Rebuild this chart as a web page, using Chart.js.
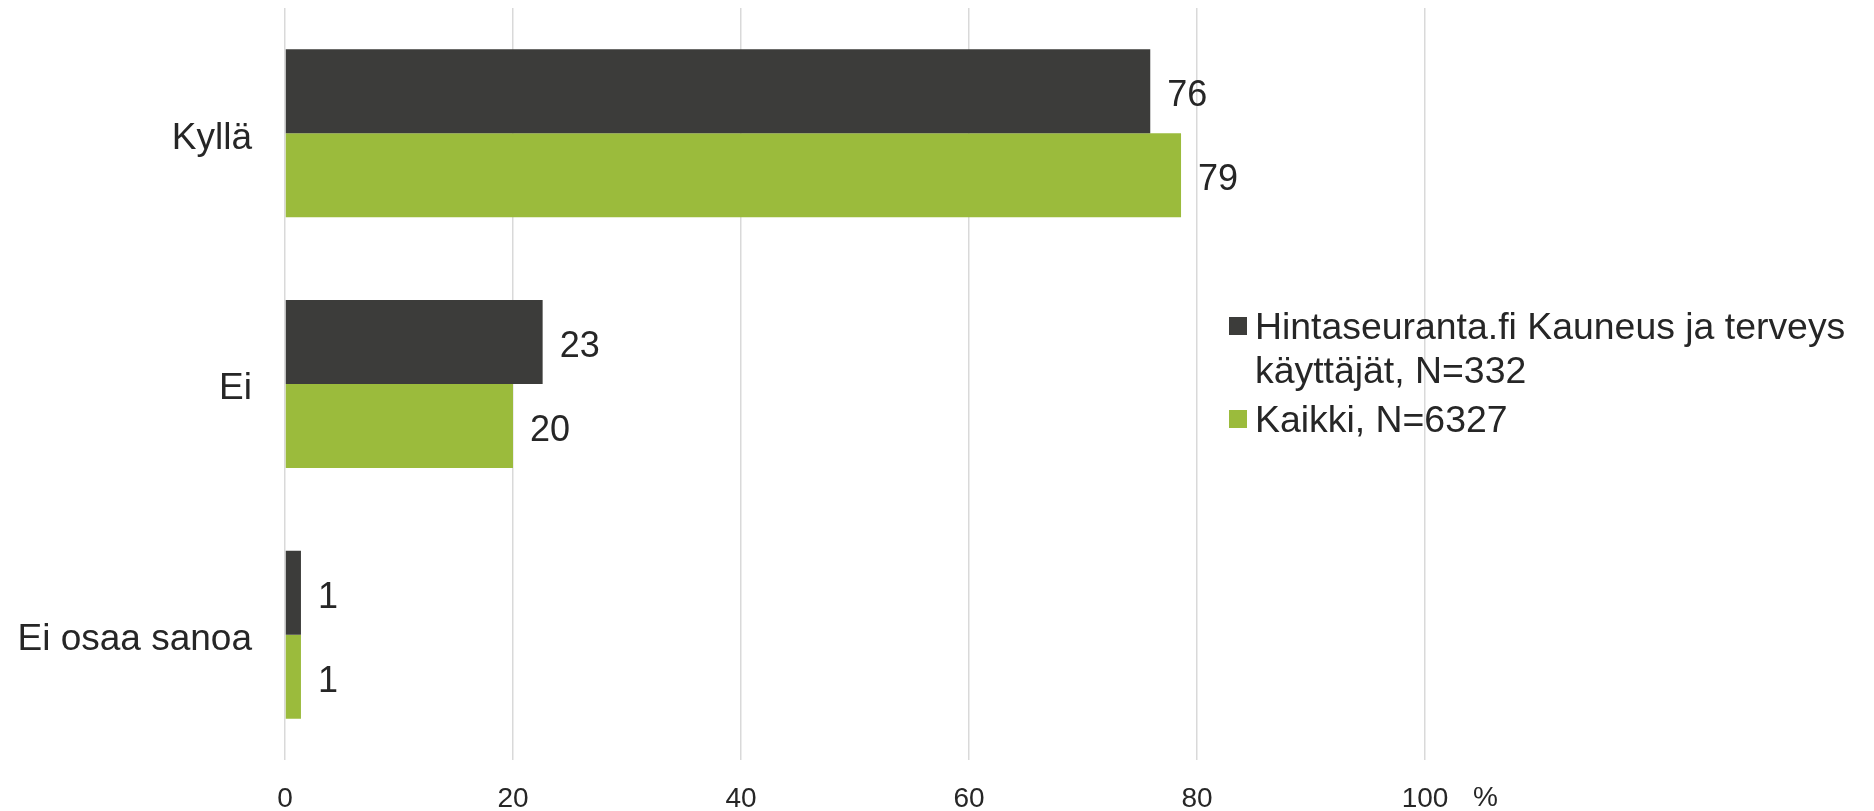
<!DOCTYPE html>
<html>
<head>
<meta charset="utf-8">
<script src="https://cdn.jsdelivr.net/npm/chart.js@4"></script>
<style>
  html, body { margin: 0; padding: 0; background: #fff; }
  #wrap { width: 1874px; height: 811px; }
</style>
</head>
<body>
<div id="wrap"><canvas id="chart" width="1874" height="811"></canvas></div>
<script>
// ===== DATA =====
const categories = ['Kyllä', 'Ei', 'Ei osaa sanoa'];
const hintaValues = [75.9, 22.6, 1.4];
const kaikkiValues = [78.6, 20.0, 1.4];
const seriesNames = [['Hintaseuranta.fi Kauneus ja terveys', 'käyttäjät, N=332'], ['Kaikki, N=6327']];
const xTicks = [0, 20, 40, 60, 80, 100];

const DARK = '#3c3c3a';
const GREEN = '#9bbb3c';
const TEXT = '#262626';
const FONT = '"Liberation Sans", Arial, sans-serif';

// value labels at the bar ends
const valueLabels = {
  id: 'valueLabels',
  afterDatasetsDraw(chart) {
    const ctx = chart.ctx;
    ctx.save();
    ctx.font = '36px ' + FONT;
    ctx.fillStyle = TEXT;
    ctx.textAlign = 'left';
    ctx.textBaseline = 'middle';
    chart.data.datasets.forEach((ds, i) => {
      chart.getDatasetMeta(i).data.forEach((bar, j) => {
        ctx.fillText(Math.round(ds.data[j]), bar.x + 17, bar.y + 5);
      });
    });
    ctx.restore();
  }
};

// legend on the right + the "%" unit after the last tick
const sideLegend = {
  id: 'sideLegend',
  afterDraw(chart) {
    const ctx = chart.ctx;
    const colors = [DARK, GREEN];
    const lineY = [[329, 373], [422]];
    ctx.save();
    ctx.font = '37.4px ' + FONT;
    ctx.textBaseline = 'middle';
    seriesNames.forEach((lines, i) => {
      ctx.fillStyle = colors[i];
      ctx.fillRect(1229, lineY[i][0] - 12, 18, 18);
      ctx.fillStyle = TEXT;
      lines.forEach((line, k) => ctx.fillText(line, 1255, lineY[i][k]));
    });
    // unit
    const xs = chart.scales.x;
    ctx.font = '28px ' + FONT;
    ctx.textAlign = 'left';
    ctx.fillText('%', xs.getPixelForValue(100) + 48, 798);
    ctx.restore();
  }
};

new Chart(document.getElementById('chart'), {
  type: 'bar',
  data: {
    labels: categories,
    datasets: [
      { label: seriesNames[0].join(' '), data: hintaValues, backgroundColor: DARK },
      { label: seriesNames[1].join(' '), data: kaikkiValues, backgroundColor: GREEN }
    ]
  },
  options: {
    indexAxis: 'y',
    responsive: false,
    animation: false,
    categoryPercentage: 0.67,
    barPercentage: 1,
    layout: { padding: { top: 8, right: 449, bottom: 0, left: 0 } },
    plugins: {
      legend: { display: false },
      tooltip: { enabled: false }
    },
    scales: {
      x: {
        min: 0, max: 100,
        afterBuildTicks(scale) { scale.ticks = xTicks.map(v => ({ value: v })); },
        afterFit(scale) { scale.height = 51; scale.paddingLeft = 0; scale.paddingRight = 0; },
        grid: { color: '#d9d9d9', lineWidth: 1.5, drawTicks: false },
        border: { display: false },
        ticks: { padding: 22, color: TEXT, font: { family: FONT, size: 28 } }
      },
      y: {
        afterFit(scale) { scale.width = 285; scale.paddingTop = 0; scale.paddingBottom = 0; },
        grid: { display: false, drawTicks: false },
        border: { display: false },
        ticks: { padding: 33, labelOffset: 5, color: TEXT, font: { family: FONT, size: 37 } }
      }
    }
  },
  plugins: [valueLabels, sideLegend]
});
</script>
</body>
</html>
